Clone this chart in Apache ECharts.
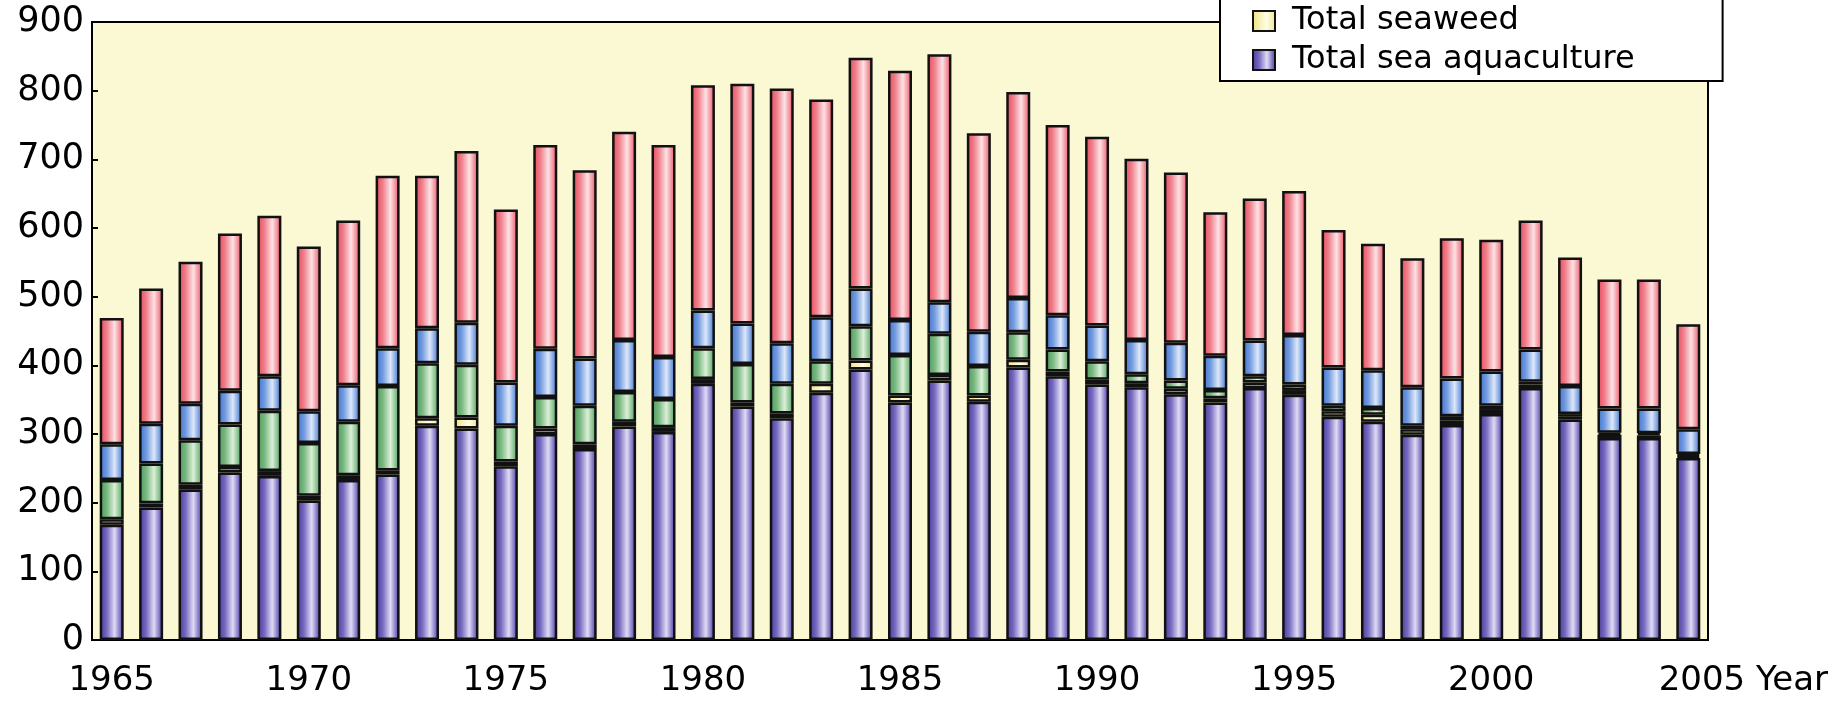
<!DOCTYPE html>
<html>
<head>
<meta charset="utf-8">
<script src="https://cdn.jsdelivr.net/npm/echarts@6/dist/echarts.min.js"></script>
<style>
  html, body { margin: 0; padding: 0; background: #ffffff; }
  #chart { width: 1847px; height: 702px; }
</style>
</head>
<body>
<div id="chart"></div>
<script>
// ---- data ----
const years = ['1965','1966','1967','1968','1969','1970','1971','1972','1973','1974',
  '1975','1976','1977','1978','1979','1980','1981','1982','1983','1984',
  '1985','1986','1987','1988','1989','1990','1991','1992','1993','1994',
  '1995','1996','1997','1998','1999','2000','2001','2002','2003','2004','2005'];

// bottom segment (purple)
const seaAquaculture = [168,193,219,244,239,203,233,241,312,308,
  253,300,278,311,303,373,340,323,360,394,
  346,378,347,397,384,372,368,358,346,367,
  357,325,318,299,313,329,367,321,294,294,265];

// thin yellow segment
const seaweed = [8,6,7,8,7,7,7,6,11,16,
  7,8,7,7,7,7,6,7,13,13,
  10,8,9,11,7,7,6,8,6,8,
  7,8,10,8,7,6,5,4,5,4,3];

// green segment (legend entry not visible)
const greenSeg = [57,58,65,62,88,77,78,123,80,77,
  52,46,56,43,41,45,56,43,33,50,
  59,60,43,40,32,27,13,12,12,9,
  8,8,10,5,6,6,4,4,3,3,3];

// blue segment (legend entry not visible)
const blueSeg = [52,58,53,49,50,46,53,55,51,61,
  63,70,69,76,61,55,59,59,64,55,
  51,46,50,50,50,52,50,55,50,52,
  72,56,55,56,55,50,47,41,35,36,36];

// red top segment (legend entry not visible)
const redSeg = [184,197,207,229,234,240,240,251,222,250,
  252,297,274,303,309,328,349,371,317,336,
  363,361,289,300,277,275,264,248,209,207,
  210,200,184,188,204,192,188,187,188,188,153];

const yTicks = { min: 0, max: 900, interval: 100 };
const axisTitle = 'Year';

// ---- styling ----
function grad(stops) {
  return { type: 'linear', x: 0, y: 0, x2: 1, y2: 0,
    colorStops: stops.map(s => ({ offset: s[0], color: s[1] })) };
}
const fills = {
  purple: grad([[0,'#463898'],[0.3,'#776ac0'],[0.62,'#e0dbf4'],[0.85,'#7e72c4'],[1,'#423594']]),
  yellow: grad([[0,'#efe07a'],[0.6,'#fffde6'],[1,'#f0e48c']]),
  green:  grad([[0,'#4c9a5a'],[0.3,'#78b880'],[0.62,'#dcefd8'],[0.85,'#80be88'],[1,'#4c9a5a']]),
  blue:   grad([[0,'#3f74d0'],[0.3,'#729ade'],[0.62,'#dde8fa'],[0.85,'#789edf'],[1,'#4174d0']]),
  red:    grad([[0,'#e8485a'],[0.3,'#ef808c'],[0.62,'#fde2e5'],[0.85,'#f28893'],[1,'#e64c5c']])
};

const FONT = 'DejaVu Sans';

function barSeries(name, data, fill) {
  return {
    name: name,
    type: 'bar',
    stack: 'total',
    barWidth: 24,
    data: data,
    itemStyle: { color: fill, borderColor: '#111', borderWidth: 2.5 },
    emphasis: { disabled: true },
    animation: false
  };
}

const chart = echarts.init(document.getElementById('chart'), null, { renderer: 'canvas' });
chart.setOption({
  backgroundColor: '#ffffff',
  animation: false,
  grid: {
    left: 92, right: 139, top: 22, bottom: 62,
    show: true, backgroundColor: '#fbf8d4',
    borderColor: '#000', borderWidth: 2
  },
  legend: {
    data: ['Total seaweed', 'Total sea aquaculture'],
    orient: 'vertical',
    left: 1220, top: -30,
    padding: [35, 88, 5, 32],
    itemGap: 7,
    itemWidth: 22, itemHeight: 20,
    icon: 'rect',
    backgroundColor: '#ffffff',
    borderColor: '#000', borderWidth: 2,
    selectedMode: false,
    textStyle: { fontFamily: FONT, fontSize: 32, color: '#000', lineHeight: 32, padding: [0,0,0,12] }
  },
  xAxis: {
    type: 'category',
    data: years,
    boundaryGap: true,
    axisLine: { show: true, lineStyle: { color: '#000', width: 2 } },
    axisTick: { show: false },
    axisLabel: {
      interval: 4, margin: 24, fontFamily: FONT, fontSize: 34, color: '#000',
      formatter: function (value, idx) {
        if (idx === years.length - 1) return '{p|}{y|' + value + '}{n| ' + axisTitle + '}';
        return value;
      },
      rich: {
        p: { width: 110 },
        y: { fontFamily: FONT, fontSize: 34, color: '#000' },
        n: { fontFamily: FONT, fontSize: 34, color: '#000' }
      }
    },
    splitLine: { show: false }
  },
  yAxis: {
    type: 'value',
    min: yTicks.min, max: yTicks.max, interval: yTicks.interval,
    axisLine: { show: true, lineStyle: { color: '#000', width: 2 } },
    axisTick: { show: true, inside: true, length: 6, lineStyle: { color: '#000', width: 2 } },
    axisLabel: { margin: 8, fontFamily: FONT, fontSize: 35, color: '#000' },
    splitLine: { show: false }
  },
  series: [
    barSeries('Total sea aquaculture', seaAquaculture, fills.purple),
    barSeries('Total seaweed', seaweed, fills.yellow),
    barSeries('Green segment', greenSeg, fills.green),
    barSeries('Blue segment', blueSeg, fills.blue),
    barSeries('Red segment', redSeg, fills.red)
  ]
});
</script>
</body>
</html>
